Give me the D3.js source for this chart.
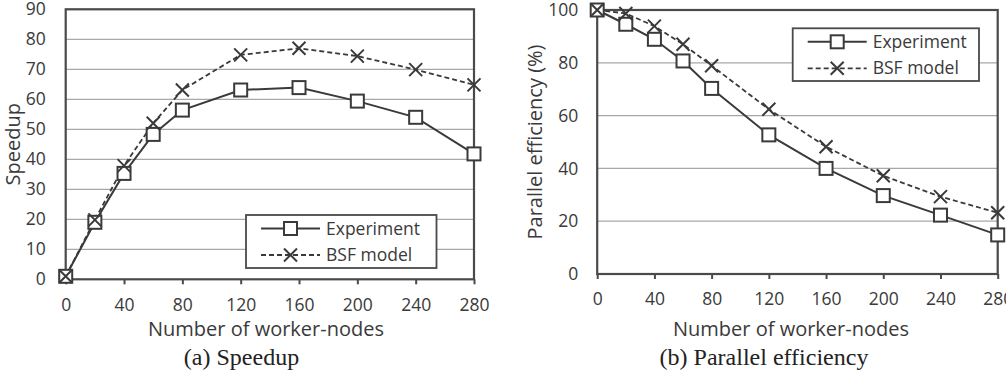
<!DOCTYPE html>
<html>
<head>
<meta charset="utf-8">
<script src="https://cdn.jsdelivr.net/npm/d3@7"></script>
<style>
  body { margin: 0; background: #fff; }
  svg { display: block; }
  .tick text { font-family: "Open Sans", sans-serif; font-size: 17.5px; fill: #3a3a3a; }
</style>
</head>
<body>
<svg id="chart" width="1006" height="372"></svg>
<script>
// values
const nodes = [0, 20, 40, 60, 80, 120, 160, 200, 240, 280]
const speedupExp = [1, 19, 35.3, 48.3, 56.4, 63.1, 63.9, 59.4, 54, 41.8]
const speedupBsf = [1, 19.8, 37.9, 52, 63.1, 74.8, 77, 74.4, 69.9, 64.8]
const effExp = [100, 94.6, 88.9, 80.7, 70.3, 52.7, 40, 29.7, 22.3, 14.8]
const effBsf = [100, 98.7, 93.9, 87, 78.9, 62.4, 48.2, 37.2, 29.3, 23.2]

const xTicks = [0, 40, 80, 120, 160, 200, 240, 280]
const speedupTicks = [0, 10, 20, 30, 40, 50, 60, 70, 80, 90]
const effTicks = [0, 20, 40, 60, 80, 100]
const seriesNames = ["Experiment", "BSF model"]

const INK = "#3a3a3a"
const BORDER = "#4a4a4a"
const GRID = "#a8a8a8"
const SANS = "'Open Sans', sans-serif"

const svg = d3.select("#chart")

function square(g, x, y) {
  g.append("rect")
    .attr("x", x - 6.5).attr("y", y - 6.5)
    .attr("width", 13).attr("height", 13)
    .attr("fill", "#fff").attr("stroke", INK).attr("stroke-width", 2)
}

function cross(g, x, y) {
  var s = 6.5
  g.append("path")
    .attr("d", `M${x - s},${y - s}L${x + s},${y + s}M${x - s},${y + s}L${x + s},${y - s}`)
    .attr("stroke", INK).attr("stroke-width", 2).attr("fill", "none")
}

function drawPanel(p) {
  var x = d3.scaleLinear().domain([0, 280]).range([p.left, p.right])
  var y = d3.scaleLinear().domain([0, p.ymax]).range([p.bottom, p.top])
  var g = svg.append("g")

  // gridlines
  g.append("g").selectAll("line").data(p.yTicks.slice(1)).join("line")
    .attr("x1", p.left).attr("x2", p.right)
    .attr("y1", d => y(d)).attr("y2", d => y(d))
    .attr("stroke", GRID).attr("stroke-width", 1.2)

  // y axis labels
  var ya = g.append("g").attr("transform", `translate(${p.left},0)`)
    .call(d3.axisLeft(y).tickValues(p.yTicks).tickSize(0).tickPadding(p.yPad))
  ya.select(".domain").remove()

  // x axis
  var xa = g.append("g").attr("transform", `translate(0,${p.bottom})`)
    .call(d3.axisBottom(x).tickValues(xTicks).tickSize(5).tickPadding(14))
  xa.select(".domain").remove()
  xa.selectAll(".tick line").attr("stroke", BORDER).attr("stroke-width", 2)

  // frame
  g.append("rect")
    .attr("x", p.left).attr("y", p.top)
    .attr("width", p.right - p.left).attr("height", p.bottom - p.top)
    .attr("fill", "none").attr("stroke", BORDER).attr("stroke-width", 2.2)

  var line = d3.line().x((d, i) => x(nodes[i])).y(d => y(d))

  g.append("path").datum(p.bsf).attr("d", line)
    .attr("fill", "none").attr("stroke", INK).attr("stroke-width", 1.8)
    .attr("stroke-dasharray", "5,3")
  g.append("path").datum(p.exp).attr("d", line)
    .attr("fill", "none").attr("stroke", INK).attr("stroke-width", 2)

  p.exp.forEach((v, i) => square(g, x(nodes[i]), y(v)))
  p.bsf.forEach((v, i) => cross(g, x(nodes[i]), y(v)))

  // legend
  var L = p.legend
  var lg = g.append("g")
  lg.append("rect")
    .attr("x", L.x).attr("y", L.y).attr("width", L.w).attr("height", L.h)
    .attr("fill", "#fff").attr("stroke", BORDER).attr("stroke-width", 1.8)
  var r1 = L.y + 13.5, r2 = L.y + 40
  lg.append("line").attr("x1", L.x + 15).attr("x2", L.x + 74)
    .attr("y1", r1).attr("y2", r1).attr("stroke", INK).attr("stroke-width", 2)
  square(lg, L.x + 44.5, r1)
  lg.append("line").attr("x1", L.x + 15).attr("x2", L.x + 74)
    .attr("y1", r2).attr("y2", r2).attr("stroke", INK).attr("stroke-width", 1.8)
    .attr("stroke-dasharray", "5,3")
  cross(lg, L.x + 44.5, r2)
  lg.selectAll("text").data(seriesNames).join("text")
    .attr("x", L.x + 80).attr("y", (d, i) => i ? r2 : r1)
    .attr("dy", "0.35em")
    .attr("font-family", SANS).attr("font-size", 17.5).attr("fill", INK)
    .text(d => d)

  // titles
  g.append("text")
    .attr("transform", `translate(${p.yTitleX},${(p.top + p.bottom) / 2}) rotate(-90)`)
    .attr("text-anchor", "middle").attr("dy", "0.35em")
    .attr("font-family", SANS).attr("font-size", 20).attr("fill", INK)
    .text(p.yTitle)
  g.append("text")
    .attr("x", p.xTitleX).attr("y", 336)
    .attr("text-anchor", "middle")
    .attr("font-family", SANS).attr("font-size", 20).attr("fill", INK)
    .text("Number of worker-nodes")
  g.append("text")
    .attr("x", p.capX).attr("y", 365)
    .attr("text-anchor", "middle")
    .attr("font-family", "'Liberation Serif', 'Times New Roman', serif")
    .attr("font-size", 24).attr("fill", "#222")
    .text(p.caption)
}

drawPanel({
  left: 65.7, right: 474, top: 9.3, bottom: 279.3, ymax: 90,
  yTicks: speedupTicks, yPad: 20,
  exp: speedupExp, bsf: speedupBsf,
  legend: { x: 246, y: 215, w: 190.5, h: 53 },
  yTitle: "Speedup", yTitleX: 13,
  xTitleX: 266, capX: 241.5, caption: "(a) Speedup"
})

drawPanel({
  left: 597.2, right: 997.7, top: 10, bottom: 274, ymax: 100,
  yTicks: effTicks, yPad: 19,
  exp: effExp, bsf: effBsf,
  legend: { x: 792.7, y: 28.3, w: 186.3, h: 52.7 },
  yTitle: "Parallel efficiency (%)", yTitleX: 535,
  xTitleX: 791, capX: 764, caption: "(b) Parallel efficiency"
})
</script>
</body>
</html>
